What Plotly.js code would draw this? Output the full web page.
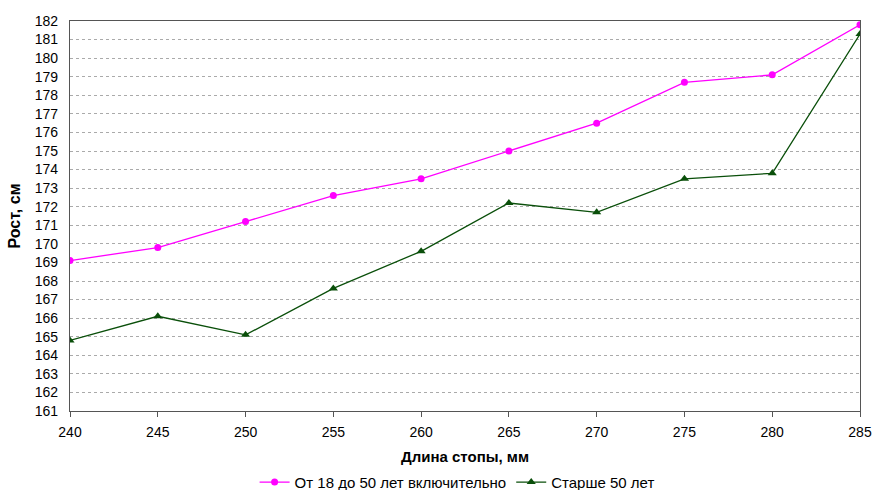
<!DOCTYPE html>
<html>
<head>
<meta charset="utf-8">
<script src="https://cdn.plot.ly/plotly-3.0.1.min.js"></script>
<style>html,body{margin:0;padding:0;background:#fff;}#chart{width:875px;height:490px;}</style>
</head>
<body>
<div id="chart"></div>
<script>
const footLength = [240, 245, 250, 255, 260, 265, 270, 275, 280, 285];
const height18to50 = [169.1, 169.8, 171.2, 172.6, 173.5, 175.0, 176.5, 178.7, 179.1, 181.8];
const heightOver50 = [164.8, 166.1, 165.1, 167.6, 169.6, 172.2, 171.7, 173.5, 173.8, 181.3];
const seriesNames = ["От 18 до 50 лет включительно", "Старше 50 лет"];
const xTitle = "Длина стопы, мм";
const yTitle = "Рост, см";

const traces = [
  {x: footLength, y: height18to50, name: seriesNames[0], type: 'scatter', mode: 'lines+markers',
   line: {color: '#FF00FF', width: 1.3}, marker: {symbol: 'circle', size: 7, color: '#FF00FF'}},
  {x: footLength, y: heightOver50, name: seriesNames[1], type: 'scatter', mode: 'lines+markers',
   line: {color: '#0A4F0A', width: 1.3}, marker: {symbol: 'triangle-up', size: 8, color: '#0A4F0A'}}
];

const layout = {
  width: 875, height: 490,
  margin: {l: 70, r: 15, t: 21, b: 79, autoexpand: false},
  paper_bgcolor: '#fff', plot_bgcolor: '#fff',
  font: {family: 'Liberation Sans, Arial, sans-serif', size: 14, color: '#000'},
  showlegend: true,
  legend: {orientation: 'h', x: 0.49, xanchor: 'center', y: -0.183, yanchor: 'middle',
           font: {size: 15}, itemwidth: 30, tracegroupgap: 0},
  xaxis: {range: [240, 285], dtick: 5, tick0: 240, showgrid: false, zeroline: false,
          showline: true, mirror: true, linecolor: '#555', linewidth: 1.2,
          ticks: 'outside', ticklen: 5, tickcolor: '#555', tickfont: {size: 14},
          ticklabelstandoff: 3, automargin: false,
          title: {text: '<b>' + xTitle + '</b>', font: {size: 15}, standoff: 12}},
  yaxis: {range: [161, 182], dtick: 1, tick0: 161, showgrid: true, gridcolor: '#aaa',
          griddash: 'dot', gridwidth: 1, zeroline: false,
          showline: true, mirror: true, linecolor: '#555', linewidth: 1.2,
          ticks: '', tickfont: {size: 14}, ticklabelstandoff: 8, automargin: false,
          title: {text: '<b>' + yTitle + '</b>', font: {size: 16}, standoff: 10}}
};

Plotly.newPlot('chart', traces, layout, {displayModeBar: false, staticPlot: true});
</script>
</body>
</html>
